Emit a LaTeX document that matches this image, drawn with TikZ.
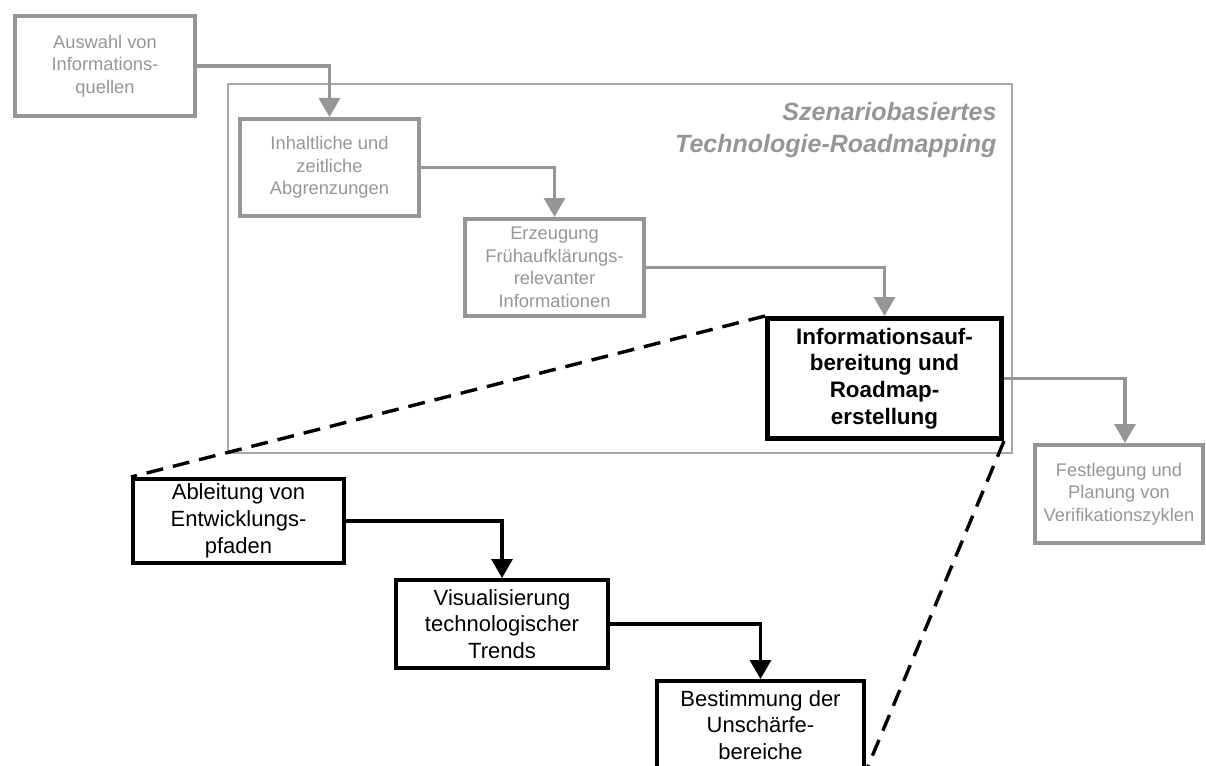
\documentclass[tikz,border=0pt]{standalone}
\usepackage{fontspec}
\setmainfont{Liberation Sans}
\usetikzlibrary{arrows.meta}
\definecolor{fade}{RGB}{150,150,150}
\definecolor{framegray}{RGB}{168,168,168}
\tikzset{oldstep/.style={draw=fade,line width=4pt,text=fade,align=center,inner sep=0pt,font=\fontsize{18.3pt}{22.5pt}\selectfont},
newstep/.style={draw,line width=4pt,align=center,inner sep=0pt,font=\fontsize{22pt}{26.7pt}\selectfont},
focus/.style={draw,line width=5pt,align=center,inner sep=0pt,font=\bfseries\fontsize{22.4pt}{26.7pt}\selectfont},
grayflow/.style={-{Triangle[length=19pt,width=21pt]},draw=fade,line width=3.4pt},
blackflow/.style={-{Triangle[length=19pt,width=21pt]},line width=3.4pt},
zoomline/.style={dash pattern=on 17pt off 10pt,line width=3.4pt}}
\begin{document}
\begin{tikzpicture}[x=1pt,y=-1pt]
\useasboundingbox (0,0) rectangle (1206,765);
\node[draw=framegray,line width=2pt,minimum width=784pt,minimum height=369pt,inner sep=0pt] (frame) at (620,268.5) {};
\node[anchor=east,align=right,text=fade,font=\bfseries\itshape\fontsize{25pt}{32pt}\selectfont] (title) at (1000,130) {Szenariobasiertes\\Technologie-Roadmapping};
\node[oldstep,minimum width=180pt,minimum height=100pt] (quellen) at (105,66) {Auswahl von\\Informations-\\quellen};
\node[oldstep,minimum width=179pt,minimum height=97pt] (abgrenz) at (329.5,167.5) {Inhaltliche und\\zeitliche\\Abgrenzungen};
\node[oldstep,minimum width=179pt,minimum height=97pt] (erzeug) at (554.5,267.5) {Erzeugung\\Frühaufklärungs-\\relevanter\\Informationen};
\node[focus,minimum width=234pt,minimum height=120pt] (aufber) at (884.5,378.5) {Informationsauf-\\bereitung und\\Roadmap-\\erstellung};
\node[oldstep,minimum width=168pt,minimum height=98pt] (verif) at (1119,494) {Festlegung und\\Planung von\\Verifikationszyklen};
\node[newstep,minimum width=211pt,minimum height=84pt] (pfade) at (238.5,521) {Ableitung von\\Entwicklungs-\\pfaden};
\node[newstep,minimum width=212pt,minimum height=88pt] (trends) at (502,624) {Visualisierung\\technologischer\\Trends};
\node[newstep,minimum width=207pt,minimum height=88pt] (unschaerfe) at (760.5,725) {Bestimmung der\\Unschärfe-\\bereiche};
% Ablauf
\draw[grayflow] (quellen.east) -| (abgrenz.north);
\draw[grayflow] (abgrenz.east) -| (erzeug.north);
\draw[grayflow] (erzeug.east) -| (aufber.north);
\draw[grayflow] (aufber.east) -| ([xshift=6pt]verif.north);
\draw[blackflow] (pfade.east) -| (trends.north);
\draw[blackflow] (trends.east) -| (unschaerfe.north);
% Detaillierung
\draw[zoomline] (aufber.north west) -- (pfade.north west);
\draw[zoomline] (aufber.south east) -- (unschaerfe.south east);
\end{tikzpicture}
\end{document}
